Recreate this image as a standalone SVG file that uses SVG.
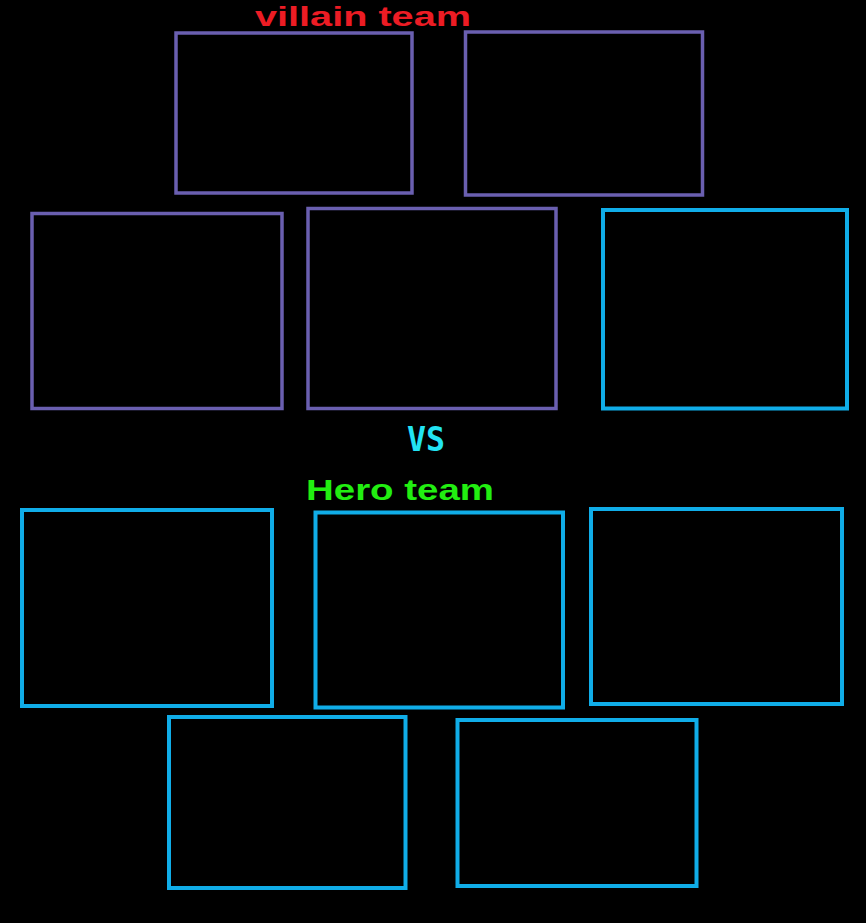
<svg xmlns="http://www.w3.org/2000/svg" width="866" height="923" viewBox="0 0 866 923">
<style>
.v{fill:none;stroke:#6a5fb0;stroke-width:3.5}
.h{fill:none;stroke:#10ade8;stroke-width:4}
.t{font-family:"Liberation Sans","DejaVu Sans",sans-serif;font-weight:bold}
</style>
<rect width="866" height="923" fill="#000"/>
<text class="t" x="255" y="26" font-size="27" fill="#ec1c24" textLength="216" lengthAdjust="spacingAndGlyphs">villain team</text>
<text x="407" y="451" font-family="DejaVu Sans Mono,monospace" font-weight="bold" font-size="33" fill="#22e3f3" textLength="38" lengthAdjust="spacingAndGlyphs">VS</text>
<text class="t" x="306" y="500" font-size="30" fill="#22ee11" textLength="188" lengthAdjust="spacingAndGlyphs">Hero team</text>
<g id="villain1"><rect class="v" x="176" y="33" width="236" height="160"/></g>
<g id="villain2"><rect class="v" x="465.5" y="32" width="237" height="163"/></g>
<g id="villain3"><rect class="v" x="32" y="213.5" width="250" height="195"/></g>
<g id="villain4"><rect class="v" x="308" y="208.5" width="248" height="200"/></g>
<g id="hero1"><rect class="h" x="603" y="210" width="244" height="198.5"/></g>
<g id="hero2"><rect class="h" x="22" y="510" width="250" height="196"/></g>
<g id="hero3"><rect class="h" x="315.5" y="512.5" width="247.5" height="195"/></g>
<g id="hero4"><rect class="h" x="591" y="509" width="251" height="195"/></g>
<g id="hero5"><rect class="h" x="169" y="717" width="236.5" height="171"/></g>
<g id="hero6"><rect class="h" x="457.5" y="720" width="239" height="166"/></g>
<g id="connectors"/>
</svg>
